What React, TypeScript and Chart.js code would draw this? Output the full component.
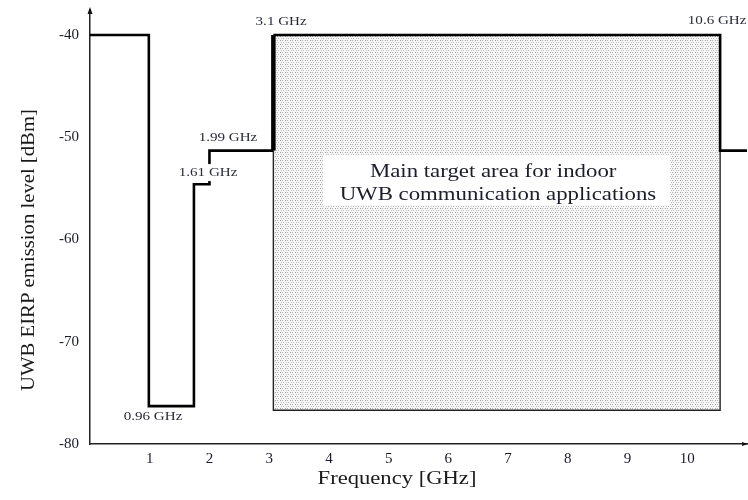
import React, { useEffect, useRef } from "react";
import { Chart, registerables } from "chart.js";

Chart.register(...registerables);

// ---- Data ----
// FCC-style indoor UWB emission mask (frequency in GHz, level in dBm), as drawn
const maskFreq = [0, 0.985, 0.985, 1.74, 1.74, 2.0, 2.0, 3.07];
const maskLevel = [-40, -40, -76.3, -76.3, -54.6, -54.6, -51.3, -51.3];
const bandEdgeFreq = [3.07, 3.07, 10.55, 10.55, 11];
const bandEdgeLevel = [-51.3, -40, -40, -51.3, -51.3];
const targetFreq = [3.07, 10.55];
const targetTop = -40;
const targetBottom = -76.7;
const xTicks = [1, 2, 3, 4, 5, 6, 7, 8, 9, 10];
const yTicks = [-80, -70, -60, -50, -40];
const edgeLabels = ["0.96 GHz", "1.61 GHz", "1.99 GHz", "3.1 GHz", "10.6 GHz"];
const edgeLabelAnchorFreq = [1.055, 1.977, 2.31, 3.2, 10.5];
const edgeLabelAnchorLevel = [-77.36, -53.5, -50.07, -38.73, -38.63];
const areaText = ["Main target area for indoor", "UWB communication applications"];

const SERIF = "'Liberation Serif', 'Times New Roman', serif";

function makePattern(): CanvasPattern | string {
  const c = document.createElement("canvas");
  c.width = 5;
  c.height = 4;
  const g = c.getContext("2d");
  if (!g) return "#e2e2e2";
  g.fillStyle = "#f6f6f6";
  g.fillRect(0, 0, 5, 4);
  g.fillStyle = "#9c9c9c";
  g.fillRect(0, 0, 1, 1);
  g.fillStyle = "#b4b4b4";
  g.fillRect(2, 0, 1, 1);
  g.fillStyle = "#c4c4c4";
  g.fillRect(1, 2, 1, 1);
  g.fillStyle = "#bcbcbc";
  g.fillRect(3, 2, 1, 1);
  const p = g.createPattern(c, "repeat");
  return p || "#e2e2e2";
}

function stretchedText(ctx: CanvasRenderingContext2D, text: string, cx: number, cy: number, sx: number) {
  ctx.save();
  ctx.translate(cx, cy);
  ctx.scale(sx, 1);
  ctx.fillText(text, 0, 0);
  ctx.restore();
}

const annotationPlugin = {
  id: "uwbAnnotations",
  afterDatasetsDraw(chart: any) {
    const { ctx, scales } = chart;
    const x = scales.x;
    const y = scales.y;
    ctx.save();
    ctx.textAlign = "center";
    ctx.textBaseline = "middle";

    // white box with the area caption
    const bx0 = x.getPixelForValue(3.9);
    const bx1 = x.getPixelForValue(9.72);
    const by0 = y.getPixelForValue(-51.74);
    const by1 = y.getPixelForValue(-56.63);
    ctx.fillStyle = "#ffffff";
    ctx.fillRect(bx0, by0, bx1 - bx0, by1 - by0);
    ctx.fillStyle = "#1c1c2a";
    ctx.font = `19px ${SERIF}`;
    stretchedText(ctx, areaText[0], x.getPixelForValue(6.75), y.getPixelForValue(-53.4), 1.2);
    stretchedText(ctx, areaText[1], x.getPixelForValue(6.83), y.getPixelForValue(-55.65), 1.2);

    // band edge labels
    ctx.font = `13px ${SERIF}`;
    edgeLabels.forEach((t, i) => {
      const px = x.getPixelForValue(edgeLabelAnchorFreq[i]);
      const py = y.getPixelForValue(edgeLabelAnchorLevel[i]);
      if (i === 1) {
        ctx.fillStyle = "#ffffff";
        ctx.fillRect(px - 31, py - 9, 62, 17);
      }
      ctx.fillStyle = "#2a2a3c";
      stretchedText(ctx, t, px, py, 1.16);
    });

    // axis titles
    ctx.fillStyle = "#1a1a1a";
    ctx.font = `19px ${SERIF}`;
    stretchedText(ctx, "Frequency [GHz]", 397, 479, 1.19);
    ctx.save();
    ctx.translate(29, 250);
    ctx.rotate(-Math.PI / 2);
    ctx.scale(1.09, 1);
    ctx.fillText("UWB EIRP emission level [dBm]", 0, 0);
    ctx.restore();

    // axis arrows
    const ax = chart.chartArea.left;
    const ay = chart.chartArea.bottom;
    ctx.fillStyle = "#111";
    ctx.beginPath();
    ctx.moveTo(ax, chart.chartArea.top - 3);
    ctx.lineTo(ax - 2.5, chart.chartArea.top + 4);
    ctx.lineTo(ax + 2.5, chart.chartArea.top + 4);
    ctx.closePath();
    ctx.fill();
    ctx.beginPath();
    ctx.moveTo(chart.chartArea.right + 1, ay);
    ctx.lineTo(chart.chartArea.right - 5, ay - 2);
    ctx.lineTo(chart.chartArea.right - 5, ay + 2);
    ctx.closePath();
    ctx.fill();
    ctx.restore();
  },
};

export default function App() {
  const ref = useRef<HTMLCanvasElement | null>(null);

  useEffect(() => {
    if (!ref.current) return;
    const pattern = makePattern();
    const pts = (xs: number[], ys: number[]) => xs.map((v, i) => ({ x: v, y: ys[i] }));
    const chart = new Chart(ref.current, {
      type: "scatter",
      data: {
        datasets: [
          {
            data: pts(targetFreq, [targetTop, targetTop]),
            showLine: true,
            fill: { value: targetBottom },
            backgroundColor: pattern as any,
            borderWidth: 0,
            pointRadius: 0,
            order: 4,
          },
          {
            data: pts([3.07, 3.07, 10.55, 10.55], [-51.3, targetBottom, targetBottom, -51.3]),
            showLine: true,
            borderColor: "#222",
            borderWidth: 1.4,
            pointRadius: 0,
            order: 3,
          },
          {
            data: pts(maskFreq, maskLevel),
            showLine: true,
            borderColor: "#000",
            borderWidth: 2.6,
            pointRadius: 0,
            borderJoinStyle: "miter",
            order: 2,
          },
          {
            data: pts(bandEdgeFreq.slice(0, 2), bandEdgeLevel.slice(0, 2)),
            showLine: true,
            borderColor: "#000",
            borderWidth: 4.5,
            pointRadius: 0,
            order: 1,
          },
          {
            data: pts(bandEdgeFreq.slice(1), bandEdgeLevel.slice(1)),
            showLine: true,
            borderColor: "#000",
            borderWidth: 2.6,
            pointRadius: 0,
            borderJoinStyle: "miter",
            order: 1,
          },
        ],
      },
      options: {
        animation: false,
        responsive: true,
        maintainAspectRatio: false,
        layout: { padding: { top: 10, right: 1, left: 0, bottom: 0 } },
        plugins: { legend: { display: false }, tooltip: { enabled: false } },
        scales: {
          x: {
            type: "linear",
            min: 0,
            max: 11,
            grid: { display: false, drawTicks: false },
            border: { display: true, color: "#222", width: 1.5 },
            afterBuildTicks: (s: any) => {
              s.ticks = xTicks.map((v) => ({ value: v }));
            },
            afterFit: (s: any) => {
              s.height = 56;
              s.paddingLeft = 0;
              s.paddingRight = 0;
            },
            ticks: {
              autoSkip: false,
              maxRotation: 0,
              padding: 6,
              color: "#1a1a2a",
              font: { family: SERIF, size: 15 },
              callback: (v: any) => String(v),
            },
          },
          y: {
            type: "linear",
            min: -80,
            max: -37.55,
            grid: { display: false, drawTicks: false },
            border: { display: true, color: "#222", width: 1.5 },
            afterBuildTicks: (s: any) => {
              s.ticks = yTicks.map((v) => ({ value: v }));
            },
            afterFit: (s: any) => {
              s.width = 90;
              s.paddingTop = 0;
              s.paddingBottom = 0;
            },
            ticks: {
              padding: 11,
              color: "#1a1a2a",
              font: { family: SERIF, size: 15 },
              callback: (v: any) => String(v),
            },
          },
        },
      },
      plugins: [annotationPlugin],
    });
    return () => chart.destroy();
  }, []);

  return (
    <div style={{ position: "absolute", left: 0, top: 0, width: 748, height: 500, background: "#fff" }}>
      <canvas ref={ref} />
    </div>
  );
}
